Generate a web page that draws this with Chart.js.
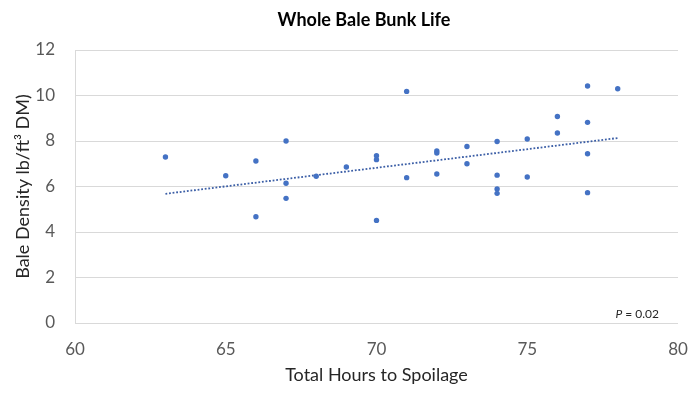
<!DOCTYPE html>
<html><head><meta charset="utf-8">
<script src="https://cdn.jsdelivr.net/npm/chart.js@4/dist/chart.umd.min.js"></script>
<style>html,body{margin:0;padding:0;background:#fff}#wrap{width:700px;height:393px}</style>
</head><body><div id="wrap"><canvas id="c" width="700" height="393"></canvas></div>
<script>
const hours = [63,65,66,66,67,67,67,68,69,70,70,70,71,71,72,72,72,73,73,74,74,74,74,75,75,76,76,77,77,77,77,78];
const density = [7.30,6.47,7.12,4.67,8.00,6.14,5.48,6.45,6.86,7.35,7.18,4.51,10.18,6.39,7.56,7.47,6.55,7.76,7.00,7.98,6.50,5.89,5.70,8.09,6.42,9.08,8.35,10.42,8.82,7.44,5.73,10.30];
const trendHours = [63,78];
const trendDensity = [5.68,8.13];
const xTicks = [60,65,70,75,80];
const yTicks = [0,2,4,6,8,10,12];
const chartTitle = 'Whole Bale Bunk Life';
const xTitle = 'Total Hours to Spoilage';
const yTitle = 'Bale Density lb/ft\u00B3 DM)';
const pItalic = 'P';
const pRest = ' = 0.02';

const FONT = 'Lato, "Open Sans", sans-serif';

const textPlugin = {
  id: 'texts',
  afterDraw(chart) {
    const ctx = chart.ctx;
    ctx.save();
    ctx.fillStyle = '#000000';
    ctx.font = 'bold 18px ' + FONT;
    ctx.textAlign = 'center';
    ctx.textBaseline = 'middle';
    ctx.fillText(chartTitle, 364, 20);
    ctx.textBaseline = 'alphabetic';
    ctx.textAlign = 'left';
    ctx.font = '12px ' + FONT;
    const wRest = ctx.measureText(pRest).width;
    ctx.font = 'italic 12px ' + FONT;
    const wP = ctx.measureText(pItalic).width;
    const right = 659;
    const start = right - wRest - wP;
    ctx.fillStyle = '#262626';
    ctx.fillText(pItalic, start, 318);
    ctx.font = '12px ' + FONT;
    ctx.fillText(pRest, start + wP, 318);
    ctx.restore();
  }
};

new Chart(document.getElementById('c'), {
  type: 'scatter',
  data: {
    datasets: [
      {
        label: 'Bale density',
        data: hours.map((h, i) => ({x: h, y: density[i]})),
        backgroundColor: '#4472C4',
        borderWidth: 0,
        pointRadius: 2.7,
        order: 1
      },
      {
        type: 'line',
        label: 'Trend',
        data: trendHours.map((h, i) => ({x: h, y: trendDensity[i]})),
        borderColor: '#3B5EA6',
        borderWidth: 1.8,
        borderDash: [1.8, 1.8],
        pointRadius: 0,
        fill: false,
        order: 2
      }
    ]
  },
  options: {
    responsive: false,
    animation: false,
    devicePixelRatio: 1,
    layout: {padding: {top: 50, right: 22, bottom: 0, left: 0}},
    plugins: {legend: {display: false}, tooltip: {enabled: false}, title: {display: false}},
    scales: {
      x: {
        type: 'linear', min: 60, max: 80,
        afterBuildTicks: s => { s.ticks = xTicks.map(v => ({value: v})); },
        grid: {display: false, drawTicks: false},
        border: {display: false},
        ticks: {padding: 16, font: {family: FONT, size: 17}, color: '#595959'},
        title: {display: true, text: xTitle, font: {family: FONT, size: 18}, color: '#262626', padding: {top: 0, bottom: 7}},
        afterFit: s => { s.height = 70; s.paddingLeft = 0; s.paddingRight = 0; }
      },
      y: {
        min: 0, max: 12,
        afterBuildTicks: s => { s.ticks = yTicks.map(v => ({value: v})); },
        grid: {color: '#D9D9D9', lineWidth: 1, drawTicks: false},
        border: {display: true, color: '#D9D9D9'},
        ticks: {padding: 20, font: {family: FONT, size: 17}, color: '#595959'},
        title: {display: true, text: yTitle, font: {family: FONT, size: 18}, color: '#262626', padding: {top: 12, bottom: 0}},
        afterFit: s => { s.width = 75; }
      }
    }
  },
  plugins: [textPlugin]
});
</script></body></html>
